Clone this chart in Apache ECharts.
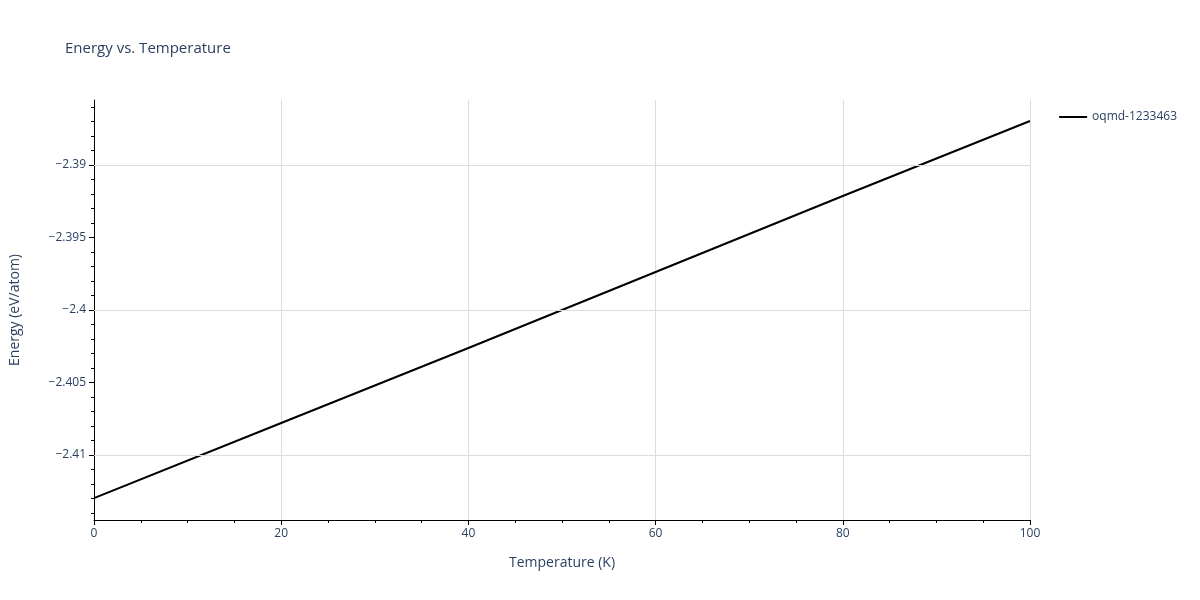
<!DOCTYPE html>
<html>
<head>
<meta charset="utf-8">
<script src="https://cdn.jsdelivr.net/npm/echarts@6/dist/echarts.min.js"></script>
<style>html,body{margin:0;padding:0;background:#fff}#c{width:1200px;height:600px}</style>
</head>
<body>
<div id="c"></div>
<script>
// valeurs
var temps = [0, 20, 40, 60, 80, 100]
var energies = [-2.41297, -2.40779, -2.40262, -2.39738, -2.39214, -2.38697]
var yTicks = [-2.41, -2.405, -2.4, -2.395, -2.39]
var yMinor = [-2.414, -2.413, -2.412, -2.411, -2.41, -2.409, -2.408, -2.407, -2.406, -2.405, -2.404, -2.403, -2.402, -2.401, -2.4, -2.399, -2.398, -2.397, -2.396, -2.395, -2.394, -2.393, -2.392, -2.391, -2.39, -2.389, -2.388, -2.387, -2.386]
var seriesName = 'oqmd-1233463'

var yMin = -2.41448, yMax = -2.38552
var font = '"Open Sans", sans-serif'
var txt = '#2a3f5f'

var chart = echarts.init(document.getElementById('c'))
chart.setOption({
	animation: false,
	title: { text: 'Energy vs. Temperature', left: 60, top: 36, textStyle: { fontFamily: font, fontSize: 15, fontWeight: 'normal', color: txt } },
	legend: { right: 18, top: 106, itemWidth: 28, itemHeight: 2, icon: 'rect', textStyle: { fontFamily: font, fontSize: 12, color: txt }, data: [seriesName] },
	grid: { left: 90, right: 170, top: 100, bottom: 80 },
	xAxis: {
		type: 'value', min: 0, max: 100, interval: 20,
		name: 'Temperature (K)', nameLocation: 'middle', nameGap: 36,
		nameTextStyle: { fontFamily: font, fontSize: 14, color: txt },
		axisLine: { onZero: false, lineStyle: { color: '#000' } },
		axisTick: { show: true, length: 5, lineStyle: { color: '#000' } },
		minorTick: { show: true, splitNumber: 4, length: 3, lineStyle: { color: '#000' } },
		axisLabel: { fontFamily: font, fontSize: 12, color: txt },
		splitLine: { lineStyle: { color: '#ddd' } }
	},
	yAxis: [{
		type: 'value', min: yMin, max: yMax,
		name: 'Energy (eV/atom)', nameLocation: 'middle', nameGap: 72,
		nameTextStyle: { fontFamily: font, fontSize: 14, color: txt },
		axisLine: { show: true, lineStyle: { color: '#000' } },
		axisTick: { show: true, length: 5, customValues: yTicks, lineStyle: { color: '#000' } },
		axisLabel: { fontFamily: font, fontSize: 12, color: txt, customValues: yTicks,
			formatter: function (v) { return String(+v.toFixed(3)).replace('-', '\u2212') } },
		splitLine: { show: false }
	}, {
		type: 'value', min: yMin, max: yMax, position: 'left',
		axisLine: { show: false },
		axisTick: { show: true, length: 3, customValues: yMinor, lineStyle: { color: '#000' } },
		axisLabel: { show: false, customValues: yMinor },
		splitLine: { show: false }
	}],
	series: [{
		name: seriesName, type: 'line', showSymbol: false, yAxisIndex: 0,
		lineStyle: { color: '#000', width: 2 }, itemStyle: { color: '#000' },
		data: temps.map(function (t, i) { return [t, energies[i]] }),
		markLine: {
			silent: true, symbol: 'none', label: { show: false },
			lineStyle: { color: '#ddd', type: 'solid', width: 1 },
			data: yTicks.map(function (v) { return { yAxis: v } })
		},
		z: 3
	}]
})
</script>
</body>
</html>
